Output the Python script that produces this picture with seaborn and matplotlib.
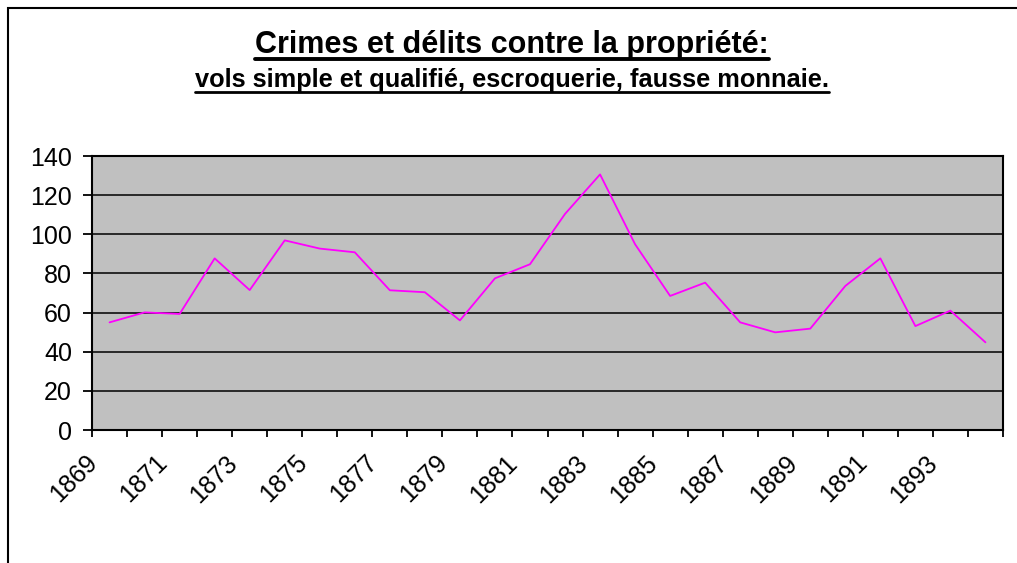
import numpy as np
import pandas as pd
import matplotlib
matplotlib.use("Agg")
import matplotlib.pyplot as plt
import matplotlib.transforms as mtransforms
import seaborn as sns
from matplotlib.lines import Line2D
from matplotlib.patches import Rectangle

# --- data ---
years = list(range(1869, 1895))
crimes = [55.0, 60.1, 59.3, 87.7, 71.5, 96.9, 92.7, 90.8, 71.4, 70.4,
          56.0, 77.5, 84.7, 110.4, 130.6, 94.9, 68.5, 75.3, 55.0, 49.9,
          51.8, 73.6, 87.7, 53.1, 61.0, 44.8]
title = "Crimes et délits contre la propriété:"
subtitle = "vols simple et qualifié, escroquerie, fausse monnaie."

df = pd.DataFrame({"pos": range(len(years)), "year": years, "value": crimes})

sns.set_style("white")
plt.rcParams["font.family"] = ["Liberation Sans", "DejaVu Sans"]
plt.rcParams["text.color"] = "black"
plt.rcParams["xtick.color"] = "black"
plt.rcParams["ytick.color"] = "black"

fig = plt.figure(figsize=(10.17, 5.63), dpi=100)
ax = fig.add_axes([0.0905, 0.2362, 0.8957, 0.4867])
ax.set_facecolor("#C0C0C0")

sns.lineplot(data=df, x="pos", y="value", ax=ax, color="#FF00FF", linewidth=1.3)

ax.set_xlim(-0.5, len(years) - 0.5)
ax.set_ylim(0, 140)
ax.set_yticks(range(0, 141, 20))
ax.yaxis.grid(True, color="black", linewidth=1.1)
ax.set_axisbelow(True)

# labels on every other year, tick marks on category boundaries
ax.set_xticks(range(0, len(years), 2))
ax.set_xticklabels([str(y) for y in years[::2]], rotation=45, ha="right",
                   rotation_mode="anchor")
ax.set_xticks(np.arange(-0.5, len(years), 1.0), minor=True)
ax.tick_params(axis="x", which="major", length=0, pad=12, labelsize=18)
ax.tick_params(axis="x", which="minor", length=5, width=1.3, direction="out",
               bottom=True)
ax.tick_params(axis="y", length=6.5, width=1.3, direction="out", left=True,
               pad=8, labelsize=18)
shift = mtransforms.ScaledTranslation(-25 / 100, -4 / 100, fig.dpi_scale_trans)
for lab in ax.get_xticklabels():
    lab.set_transform(lab.get_transform() + shift)
ax.set_xlabel("")
ax.set_ylabel("")
for s in ax.spines.values():
    s.set_visible(True)
    s.set_color("black")
    s.set_linewidth(1.5)

# titles with underline
t1 = fig.text(0.5035, 1 - 53 / 563, title, ha="center", va="baseline",
              fontsize=22, fontweight="bold")
t2 = fig.text(0.5035, 1 - 87 / 563, subtitle, ha="center", va="baseline",
              fontsize=18.3, fontweight="bold")
fig.canvas.draw()
r = fig.canvas.get_renderer()
W, H = fig.bbox.width, fig.bbox.height
for t, off, lw in [(t1, 6, 2.8), (t2, 5, 2.0)]:
    bb = t.get_window_extent(r)
    yb = t.get_position()[1] - off / H
    fig.add_artist(Line2D([bb.x0 / W, bb.x1 / W], [yb, yb], color="black",
                          linewidth=lw, transform=fig.transFigure))

# outer chart border
fig.add_artist(Rectangle((8 / 1017, -0.05), 1.2, 1 - 8 / 563 + 0.05,
                         fill=False, edgecolor="black", linewidth=1.5,
                         transform=fig.transFigure))

fig.savefig("out.png", dpi=100)
